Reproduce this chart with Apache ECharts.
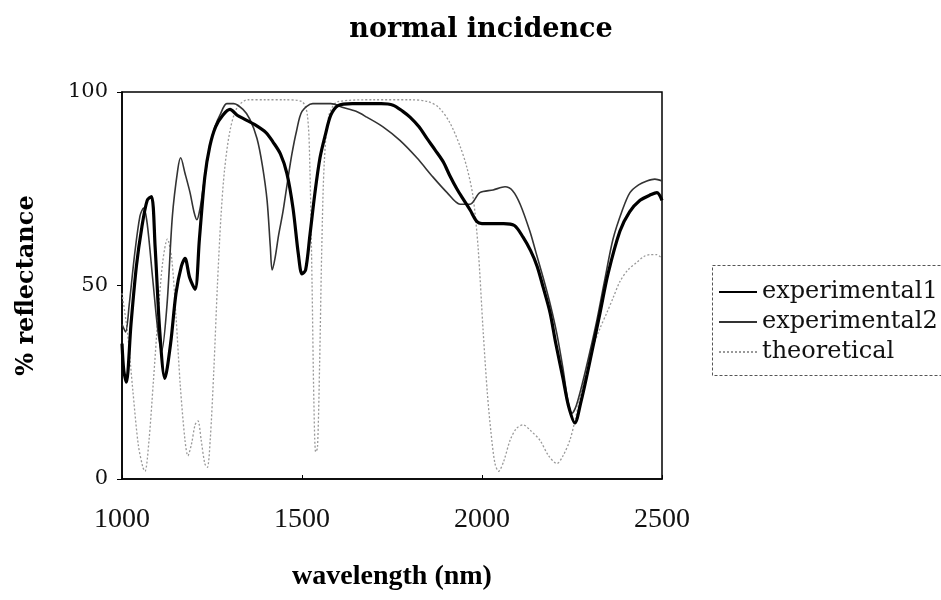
<!DOCTYPE html>
<html>
<head>
<meta charset="utf-8">
<script src="https://cdn.jsdelivr.net/npm/echarts@6/dist/echarts.min.js"></script>
<style>html,body{margin:0;padding:0;background:#fff;}#c{width:941px;height:600px;}</style>
</head>
<body>
<div id="c"></div>
<script>
var titleText = 'normal incidence';
var xName = 'wavelength (nm)';
var yName = '% reflectance';
var seriesNames = ['experimental1', 'experimental2', 'theoretical'];
var xTicks = [1000, 1500, 2000, 2500];
var yTicks = [0, 50, 100];

var exp1X = [1000,1005,1012,1025,1040,1055,1070,1082,1092,1105,1119,1135,1150,1165,1175,1188,1203,1215,1230,1244,1260,1280,1300,1320,1340,1370,1400,1420,1440,1458,1475,1490,1500,1510,1522,1536,1550,1565,1580,1600,1640,1680,1720,1753,1780,1800,1825,1847,1870,1892,1910,1930,1950,1967,1986,2000,2030,2060,2090,2114,2135,2153,2170,2189,2205,2225,2240,2258,2275,2292,2310,2328,2350,2383,2410,2439,2470,2486,2500];
var exp1Y = [35,28,25,40,55,65,72,73,60,38,26,35,48,55,57,52,49,62,78,86,91,94,95.5,94,93,91.5,89.5,87,84,79,70,58,53,54,63,74,83,89,94,96.5,97,97,97,96.6,95,93.5,91,88,85,82,78.5,75,72,69.5,66.5,66,66,66,65.5,62.5,59,55,49.5,43,35,26,19,14.5,20,27,35,43,53,64,69,72,73.5,74,72];

var exp2X = [1000,1010,1020,1035,1050,1060,1070,1085,1100,1110,1125,1140,1155,1163,1175,1189,1200,1208,1217,1225,1235,1244,1258,1272,1291,1310,1336,1355,1375,1390,1403,1412,1417,1425,1435,1447,1460,1472,1485,1500,1530,1580,1614,1650,1680,1725,1772,1819,1864,1903,1939,1967,1994,2031,2064,2085,2106,2133,2150,2170,2190,2208,2225,2239,2250,2262,2281,2300,2319,2340,2364,2390,2411,2435,2458,2480,2500];
var exp2Y = [40,38,45,58,68,70,66,52,38,33,45,68,80,83,79,74,69,67,70,75,81,86,91,94,97,97,95.5,93,88,81,72,60,54,57,63,69,77,84,90,95,97,97,96,95,93.5,91,87.5,83,78,74,71,71,74,74.7,75.5,74.5,71,64,58.5,52,45,37.5,28.5,20,17,19,25.5,33,41,51,62,69.5,74,76,77,77.5,77];

var theoX = [1000,1015,1030,1045,1058,1064,1075,1087,1100,1113,1126,1138,1150,1162,1175,1183,1193,1203,1211,1220,1230,1237,1245,1255,1265,1275,1285,1300,1320,1350,1400,1450,1500,1515,1522,1528,1533,1538,1543,1549,1555,1562,1575,1600,1700,1800,1850,1880,1911,1939,1958,1975,1989,2003,2015,2025,2036,2046,2060,2078,2095,2114,2135,2161,2185,2208,2225,2244,2258,2272,2290,2308,2328,2347,2365,2383,2405,2430,2450,2467,2485,2500];
var theoY = [48,38,23,9,3,2,10,25,42,56,62,57,42,24,10,6,9,14,15,10,4,3,10,28,50,68,80,90,96,98,98,98,97.5,94,80,50,20,7,8,30,60,82,94,97.5,98,98,97.5,96,92,86,80.5,73,60,38.5,22,12,4,2,4.5,10,13,14,12.5,10,6,4,6,10,15,21,28,34,39,43,47,51,54,56,57.5,58,58,57];

function pairs(xs, ys) { return xs.map(function (x, i) { return [x, ys[i]]; }); }

var wide = '"DejaVu Serif", "Liberation Serif", serif';
var times = '"Liberation Serif", "DejaVu Serif", serif';
var chart = echarts.init(document.getElementById('c'), null, {renderer: 'canvas'});
chart.setOption({
  backgroundColor: '#fff',
  animation: false,
  title: {
    text: titleText, left: 476, top: 11, textAlign: 'center',
    textStyle: {fontFamily: wide, fontSize: 27, fontWeight: 'bold', color: '#000'}
  },
  grid: {left: 122, top: 92, width: 540, height: 387, show: true, borderColor: '#000', borderWidth: 1.5, backgroundColor: 'transparent'},
  xAxis: {
    type: 'value', min: xTicks[0], max: xTicks[xTicks.length - 1], interval: 500,
    name: xName, nameLocation: 'middle', nameGap: 84,
    nameTextStyle: {fontFamily: times, fontSize: 28, fontWeight: 'bold', color: '#000'},
    axisLine: {show: true, lineStyle: {color: '#000', width: 1.5}},
    axisTick: {show: true, inside: true, length: 4, lineStyle: {color: '#000'}},
    axisLabel: {margin: 27, fontFamily: times, fontSize: 28, color: '#111',
      formatter: function (v) { return String(v); }},
    splitLine: {show: false}
  },
  yAxis: {
    type: 'value', min: yTicks[0], max: yTicks[yTicks.length - 1], interval: 50,
    name: yName, nameLocation: 'middle', nameGap: 83, nameRotate: 90,
    nameTextStyle: {fontFamily: wide, fontSize: 24, fontWeight: 'bold', color: '#000'},
    axisLine: {show: true, lineStyle: {color: '#000', width: 1.5}},
    axisTick: {show: true, inside: false, length: 5, lineStyle: {color: '#000'}},
    axisLabel: {margin: 14, fontFamily: wide, fontSize: 21, color: '#111',
      formatter: function (v) { return String(v); }},
    splitLine: {show: false}
  },
  legend: {
    orient: 'vertical', left: 713, top: 275, itemGap: 6, itemWidth: 38, itemHeight: 4,
    data: seriesNames,
    itemStyle: {opacity: 0},
    textStyle: {fontFamily: wide, fontSize: 24, color: '#111'}
  },
  graphic: [{
    type: 'rect', left: 710, top: 263, shape: {width: 240, height: 110},
    style: {fill: 'none', stroke: '#555', lineWidth: 1, lineDash: [3, 2]}, z: 0
  }],
  series: [
    {name: seriesNames[2], type: 'line', data: pairs(theoX, theoY), symbol: 'none', smooth: 0.3,
     lineStyle: {color: '#999', width: 1.3, type: [2, 2]}, itemStyle: {color: '#999'}, z: 1},
    {name: seriesNames[1], type: 'line', data: pairs(exp2X, exp2Y), symbol: 'none', smooth: 0.3,
     lineStyle: {color: '#333', width: 1.6}, itemStyle: {color: '#333'}, z: 2},
    {name: seriesNames[0], type: 'line', data: pairs(exp1X, exp1Y), symbol: 'none', smooth: 0.3,
     lineStyle: {color: '#000', width: 3.2}, itemStyle: {color: '#000'}, z: 3}
  ]
});
</script>
</body>
</html>
